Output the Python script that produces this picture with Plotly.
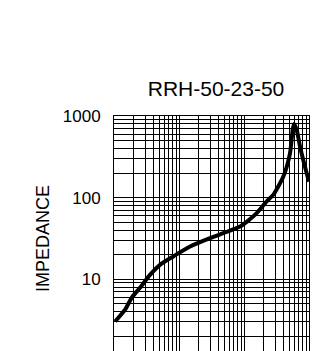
import plotly.graph_objects as go

# Data (log-log impedance curve)
frequency = [1.04, 1.48, 1.87, 2.51, 3.58, 5.1, 8.17, 14.8, 30, 48.1, 86.8, 115, 157,
             234, 282, 403, 510, 561, 588, 647, 728, 867, 1000]
impedance = [3.03, 4.23, 5.92, 7.85, 11.3, 15.0, 19.0, 25.1, 31.8, 36.6, 44.2, 51.9, 64.4,
             93.7, 108, 181, 349, 675, 798, 675, 421, 239, 157]
y_tick_vals = [10, 100, 1000]
y_tick_text = ["10", "100", "1000"]
title_text = "RRH-50-23-50"
y_title = "IMPEDANCE"

W, H = 318, 351
OFF = 8  # default body margin of the html page
ml, mr, mt, mb = 114 - OFF, 9 + OFF, 116 - OFF, OFF

fig = go.Figure()
fig.add_trace(go.Scatter(
    x=frequency, y=impedance, mode="lines",
    line=dict(color="black", width=4, shape="spline", smoothing=0.6),
    hoverinfo="skip", showlegend=False,
))

font = "Liberation Sans, Arial, Helvetica, sans-serif"
grid = dict(showgrid=True, gridcolor="black", gridwidth=1)

fig.update_xaxes(
    type="log", range=[0, 3], dtick=1, showticklabels=False, ticks="",
    zeroline=False, showline=True, linecolor="black", linewidth=1, mirror=True,
    minor=dict(dtick="D1", showgrid=True, gridcolor="black", gridwidth=1, ticks=""),
    **grid,
)
fig.update_yaxes(
    type="log", range=[0.12, 3], tickmode="array", tickvals=y_tick_vals, ticktext=y_tick_text,
    ticks="", ticklabelstandoff=9, zeroline=False,
    showline=True, linecolor="black", linewidth=1, mirror=True,
    tickfont=dict(family=font, size=17, color="black"),
    minor=dict(tickmode="linear", dtick="D1", showgrid=True, gridcolor="black", gridwidth=1, ticks=""),
    **grid,
)

fig.add_annotation(
    text=y_title, xref="paper", yref="paper", x=(43 - 114) / (309 - 114),
    y=(351 - 239) / (351 - 116), textangle=-90, showarrow=False,
    xanchor="center", yanchor="middle",
    font=dict(family=font, size=18, color="black"),
)

fig.update_layout(
    width=W, height=H,
    margin=dict(l=ml, r=mr, t=mt, b=mb),
    paper_bgcolor="white", plot_bgcolor="white",
    title=dict(text=title_text, x=(216 - OFF) / W, y=1 - (89 - OFF) / H,
               xanchor="center", yanchor="middle",
               font=dict(family=font, size=21, color="black")),
)

fig.write_html("out.html")
